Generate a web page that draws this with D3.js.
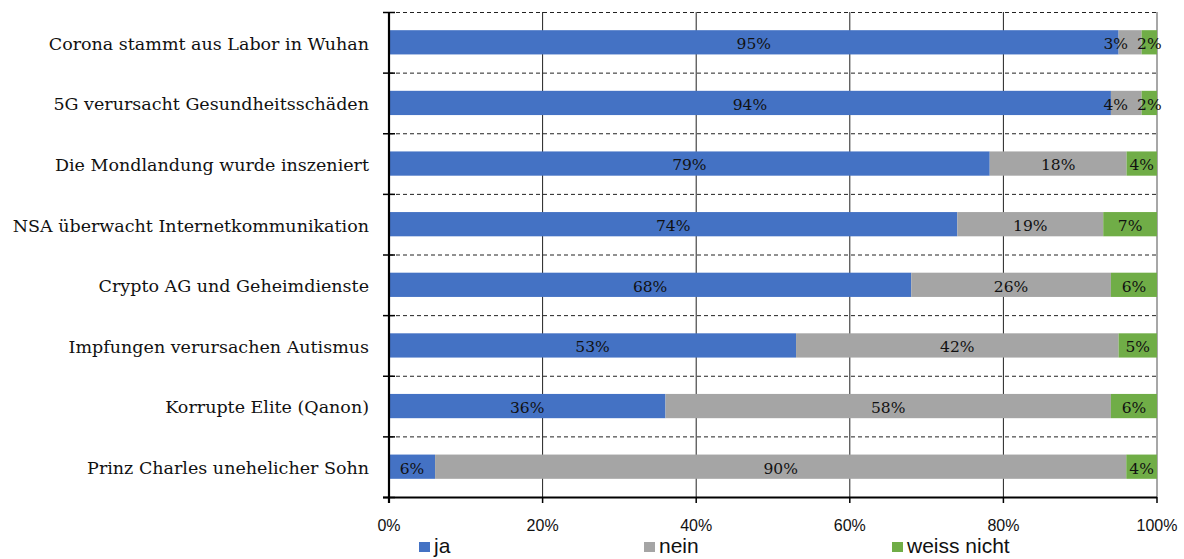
<!DOCTYPE html>
<html>
<head>
<meta charset="utf-8">
<script src="https://cdn.jsdelivr.net/npm/d3@7"></script>
<style>
  html, body { margin: 0; padding: 0; background: #fff; }
  svg { display: block; }
  .cat { font-family: "DejaVu Serif", serif; font-size: 17.5px; fill: #111; }
  .val { font-family: "DejaVu Serif", serif; font-size: 15.5px; fill: #111; }
  .tick-label { font-family: "Liberation Sans", Arial, sans-serif; font-size: 16px; fill: #111; }
  .legend-label { font-family: "Liberation Sans", Arial, sans-serif; font-size: 21px; fill: #111; }
</style>
</head>
<body>
<svg id="chart" width="1184" height="559"></svg>
<script>
// Survey statements, top to bottom
const categories = [
  "Corona stammt aus Labor in Wuhan",
  "5G verursacht Gesundheitsschäden",
  "Die Mondlandung wurde inszeniert",
  "NSA überwacht Internetkommunikation",
  "Crypto AG und Geheimdienste",
  "Impfungen verursachen Autismus",
  "Korrupte Elite (Qanon)",
  "Prinz Charles unehelicher Sohn"
];
// Answer shares in percent
const ja         = [95, 94, 79, 74, 68, 53, 36, 6];
const nein       = [3, 4, 18, 19, 26, 42, 58, 90];
const weissNicht = [2, 2, 4, 7, 6, 5, 6, 4];

const seriesNames = ["ja", "nein", "weiss nicht"];
const seriesColors = ["#4472C4", "#A5A5A5", "#70AD47"];
const xTicks = [0, 0.2, 0.4, 0.6, 0.8, 1];

const rows = categories.map((c, i) => ({
  cat: c, "ja": ja[i], "nein": nein[i], "weiss nicht": weissNicht[i]
}));

const svg = d3.select("#chart");
const plotLeft = 389, plotRight = 1157, plotTop = 12, plotBottom = 497;

const x = d3.scaleLinear().domain([0, 1]).range([plotLeft, plotRight]);
const y = d3.scaleBand().domain(categories).range([plotTop, plotBottom])
  .paddingInner(0.6).paddingOuter(0.3);
const step = y.step();

// 100% stacked layout
const stack = d3.stack().keys(seriesNames).offset(d3.stackOffsetExpand);
const layers = stack(rows);

// vertical gridlines
const grid = svg.append("g");
grid.selectAll("line.v").data(xTicks.slice(1, -1)).join("line")
  .attr("x1", d => x(d)).attr("x2", d => x(d))
  .attr("y1", plotTop).attr("y2", plotBottom)
  .attr("stroke", "#222").attr("stroke-width", 1);
grid.append("line")
  .attr("x1", x(1)).attr("x2", x(1)).attr("y1", plotTop).attr("y2", plotBottom)
  .attr("stroke", "#8a8a8a").attr("stroke-width", 1.5);

// dashed separators between statements
const seps = d3.range(categories.length).map(i => plotTop + i * step);
grid.selectAll("line.h").data(seps).join("line")
  .attr("x1", plotLeft).attr("x2", plotRight)
  .attr("y1", d => d + 0.5).attr("y2", d => d + 0.5)
  .attr("stroke", "#222").attr("stroke-width", 1)
  .attr("stroke-dasharray", "4,3");

// bars
const barG = svg.append("g");
layers.forEach((layer, li) => {
  barG.append("g").attr("fill", seriesColors[li])
    .selectAll("rect").data(layer).join("rect")
    .attr("x", d => x(d[0]))
    .attr("width", d => x(d[1]) - x(d[0]))
    .attr("y", d => y(d.data.cat))
    .attr("height", y.bandwidth());
});

// value labels, centred in each segment
const labG = svg.append("g");
const labelSel = layers.map((layer, li) =>
  labG.append("g").selectAll("text").data(layer).join("text")
    .attr("class", "val")
    .attr("x", d => (x(d[0]) + x(d[1])) / 2)
    .attr("y", d => y(d.data.cat) + y.bandwidth() / 2)
    .attr("dy", "0.44em")
    .attr("text-anchor", "middle")
    .text(d => d.data[seriesNames[li]] + "%")
);

// push crowded labels to the left so neighbours in a row don't collide
const labelGap = 9;
categories.forEach((c, ri) => {
  const nodes = labelSel.map(sel => sel.nodes()[ri]);
  for (let k = nodes.length - 2; k >= 0; k--) {
    const cur = nodes[k], nxt = nodes[k + 1];
    const cw = cur.getComputedTextLength(), nw = nxt.getComputedTextLength();
    const cx = +cur.getAttribute("x"), nx = +nxt.getAttribute("x");
    const limit = nx - nw / 2 - labelGap;
    if (cx + cw / 2 > limit) cur.setAttribute("x", limit - cw / 2);
  }
});

// left axis with category labels
const yAxisG = svg.append("g");
yAxisG.append("line")
  .attr("x1", plotLeft).attr("x2", plotLeft).attr("y1", plotTop).attr("y2", plotBottom + 6)
  .attr("stroke", "#000").attr("stroke-width", 2.2);
yAxisG.selectAll("line.t").data(seps.concat([plotBottom])).join("line")
  .attr("x1", plotLeft - 6).attr("x2", plotLeft + 6)
  .attr("y1", d => d + 0.5).attr("y2", d => d + 0.5)
  .attr("stroke", "#000").attr("stroke-width", 1.5);
yAxisG.selectAll("text").data(categories).join("text")
  .attr("class", "cat")
  .attr("x", plotLeft - 20)
  .attr("y", d => y(d) + y.bandwidth() / 2)
  .attr("dy", "0.42em")
  .attr("text-anchor", "end")
  .text(d => d);

// bottom axis
const xAxisG = svg.append("g");
xAxisG.append("line")
  .attr("x1", plotLeft - 6).attr("x2", plotRight).attr("y1", plotBottom + 0.5).attr("y2", plotBottom + 0.5)
  .attr("stroke", "#000").attr("stroke-width", 2);
xAxisG.selectAll("line.t").data(xTicks).join("line")
  .attr("x1", d => x(d)).attr("x2", d => x(d))
  .attr("y1", plotBottom).attr("y2", plotBottom + 6)
  .attr("stroke", "#000").attr("stroke-width", 1.5);
xAxisG.selectAll("text").data(xTicks).join("text")
  .attr("class", "tick-label")
  .attr("x", d => x(d))
  .attr("y", 531)
  .attr("text-anchor", "middle")
  .text(d3.format(".0%"));

// legend
const legendX = [419, 644, 892];
const legend = svg.append("g");
seriesNames.forEach((name, i) => {
  legend.append("rect")
    .attr("x", legendX[i]).attr("y", 542)
    .attr("width", 11).attr("height", 10)
    .attr("fill", seriesColors[i]);
  legend.append("text")
    .attr("class", "legend-label")
    .attr("x", legendX[i] + 15).attr("y", 553)
    .text(name);
});
</script>
</body>
</html>
